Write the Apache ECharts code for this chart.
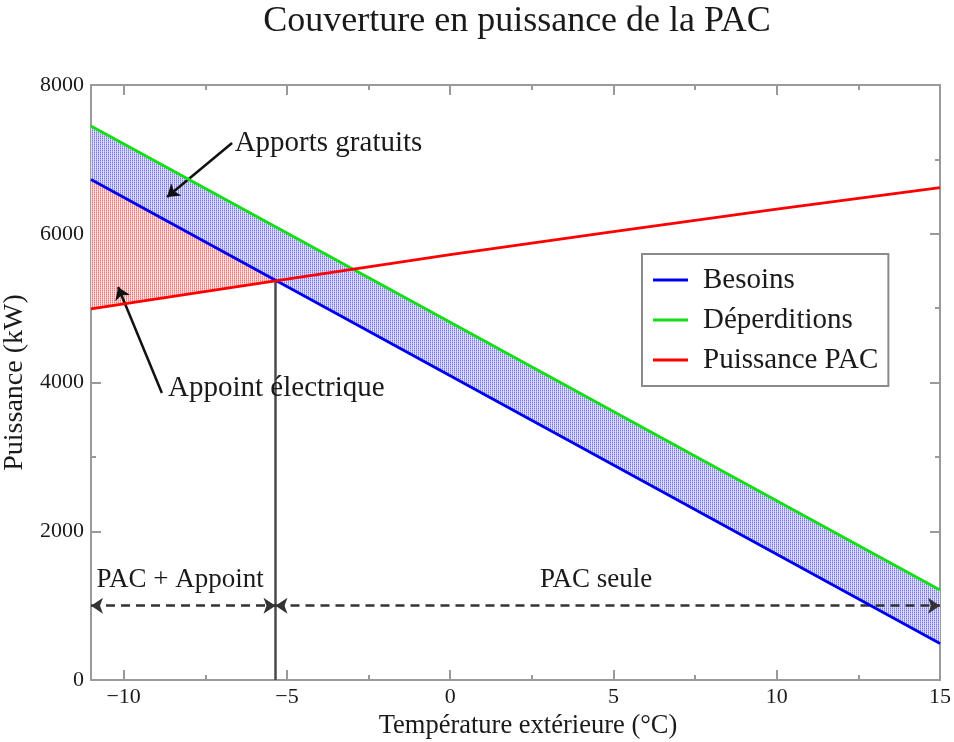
<!DOCTYPE html>
<html>
<head>
<meta charset="utf-8">
<script src="https://cdn.jsdelivr.net/npm/echarts@6/dist/echarts.min.js"></script>
<style>
  html, body { margin: 0; padding: 0; background: #fff; }
  #chart { width: 954px; height: 742px; }
</style>
</head>
<body>
<div id="chart"></div>
<script>
// values (x in °C, y in kW)
const temps = [-11, -5, 0, 5, 10, 15];
const besoins = [6730, 5290, 4090, 2890, 1690, 490];
const deperditions = [7450, 6010, 4810, 3610, 2410, 1210];
const puissancePac = [4990, 5390, 5720, 6030, 6330, 6620];

// electric backup zone, from -11 up to the balance point
const appointTemps = [-11, -5.35];
const appointBas = [4990, 5370];
const appointHaut = [6730, 5370];

const balanceTemp = -5.35;
const balancePower = 5370;
const arrowLevel = 1000;

const FONT = "Liberation Serif";
const AXIS_GREY = "#9a9a9a";
const INK = "#1a1a1a";

const pairs = (xs, ys) => xs.map((x, i) => [x, ys[i]]);

// small repeated texture for the hatched areas
function hatch(dark, mid, light) {
  const c = document.createElement("canvas");
  c.width = 4;
  c.height = 4;
  const ctx = c.getContext("2d");
  for (let x = 0; x < 4; x++) {
    for (let y = 0; y < 4; y++) {
      ctx.fillStyle = x % 2 ? light : (x + y) % 2 ? mid : dark;
      ctx.fillRect(x, y, 1, 1);
    }
  }
  return { image: c, repeat: "repeat" };
}

// filled band between two curves, drawn through the axis scales
function band(xs, low, high, fill) {
  return {
    type: "custom",
    silent: true,
    z: 1,
    data: [xs[0]],
    renderItem: (params, api) => {
      const top = xs.map((x, i) => api.coord([x, high[i]]));
      const bottom = xs.map((x, i) => api.coord([x, low[i]])).reverse();
      return {
        type: "polygon",
        shape: { points: top.concat(bottom) },
        style: { fill: fill },
      };
    },
  };
}

const arrowLine = (from, to, startSym, endSym, color, width, dashed) => [
  {
    coord: from,
    symbol: startSym,
    lineStyle: { color: color, width: width, type: dashed ? [9, 6] : "solid" },
  },
  { coord: to, symbol: endSym },
];

const note = (text, at, align, size) => ({
  coord: at,
  symbol: "circle",
  symbolSize: 0,
  label: {
    show: true,
    formatter: text,
    position: "inside",
    align: align,
    verticalAlign: "middle",
    fontFamily: FONT,
    fontSize: size,
    color: INK,
  },
});

const xBase = {
  type: "value",
  min: -11,
  max: 15,
  splitNumber: 5,
  axisLine: { onZero: false, lineStyle: { color: AXIS_GREY, width: 2 } },
  axisTick: { inside: true, length: 10, lineStyle: { color: AXIS_GREY, width: 2 } },
  minorTick: { show: true, splitNumber: 2, length: 5, lineStyle: { color: AXIS_GREY, width: 2 } },
  splitLine: { show: false },
};
const yBase = {
  type: "value",
  min: 0,
  max: 8000,
  interval: 2000,
  axisLine: { show: true, onZero: false, lineStyle: { color: AXIS_GREY, width: 2 } },
  axisTick: { show: true, inside: true, length: 10, lineStyle: { color: AXIS_GREY, width: 2 } },
  minorTick: { show: true, splitNumber: 2, length: 5, lineStyle: { color: AXIS_GREY, width: 2 } },
  splitLine: { show: false },
};

const chart = echarts.init(document.getElementById("chart"));

const option = {
  animation: false,
  backgroundColor: "#fff",
  title: {
    text: "Couverture en puissance de la PAC",
    left: 512,
    top: -1,
    textAlign: "center",
    textStyle: { fontFamily: FONT, fontSize: 36, fontWeight: "normal", color: INK },
  },
  grid: { left: 91, right: 14, top: 85, bottom: 62, outerBoundsMode: "none" },
  legend: {
    orient: "vertical",
    left: 642,
    top: 254,
    data: ["Besoins", "Déperditions", "Puissance PAC"],
    icon: "rect",
    borderColor: "#8a8a8a",
    borderWidth: 2,
    padding: [11, 10, 11, 11],
    itemWidth: 35,
    itemHeight: 3,
    itemGap: 10,
    textStyle: {
      fontFamily: FONT,
      fontSize: 29,
      lineHeight: 30,
      color: INK,
      padding: [0, 0, 0, 10],
    },
  },
  xAxis: [
    {
      ...xBase,
      name: "Température extérieure (°C)",
      nameLocation: "middle",
      nameGap: 25,
      nameTextStyle: { fontFamily: FONT, fontSize: 26.5, color: INK, padding: [0, 0, 0, 25] },
      axisLabel: {
        showMinLabel: false,
        margin: 6,
        fontFamily: FONT,
        fontSize: 22,
        color: INK,
        formatter: (v) => (v < 0 ? "\u2212" + -v : String(v)),
      },
    },
    { ...xBase, position: "top", axisLabel: { show: false } },
  ],
  yAxis: [
    {
      ...yBase,
      name: "Puissance (kW)",
      nameLocation: "middle",
      nameGap: 44,
      nameTextStyle: { fontFamily: FONT, fontSize: 28, color: INK },
      axisLabel: { margin: 7, fontFamily: FONT, fontSize: 22, color: INK, formatter: (v) => String(v) },
    },
    { ...yBase, position: "right", axisLabel: { show: false } },
  ],
  series: [
    band(temps, besoins, deperditions, hatch("#7474ec", "#acacf4", "#dedefb")),
    band(appointTemps, appointBas, appointHaut, hatch("#f07474", "#f6acac", "#fcdede")),
    {
      name: "Besoins",
      type: "line",
      symbol: "none",
      z: 5,
      data: pairs(temps, besoins),
      lineStyle: { color: "#0000f0", width: 2.8 },
      itemStyle: { color: "#0000f0" },
    },
    {
      name: "Déperditions",
      type: "line",
      symbol: "none",
      z: 5,
      data: pairs(temps, deperditions),
      lineStyle: { color: "#10e010", width: 2.8 },
      itemStyle: { color: "#10e010" },
    },
    {
      name: "Puissance PAC",
      type: "line",
      symbol: "none",
      z: 5,
      data: pairs(temps, puissancePac),
      lineStyle: { color: "#ff0000", width: 2.8 },
      itemStyle: { color: "#ff0000" },
      markLine: {
        silent: true,
        symbolSize: 12,
        label: { show: false },
        emphasis: { disabled: true },
        data: [
          arrowLine([balanceTemp, 0], [balanceTemp, balancePower], "none", "none", "#4a4a4a", 2.5, false),
          arrowLine([-6.68, 7220], [-8.67, 6494], "none", "arrow", "#111", 2.5, false),
          arrowLine([-8.83, 3860], [-10.17, 5284], "none", "arrow", "#111", 2.5, false),
          arrowLine([-11, arrowLevel], [balanceTemp, arrowLevel], "arrow", "arrow", "#333", 2.5, true),
          arrowLine([balanceTemp, arrowLevel], [15, arrowLevel], "arrow", "arrow", "#333", 2.5, true),
        ],
      },
      markPoint: {
        silent: true,
        data: [
          note("Apports gratuits", [-6.6, 7220], "left", 29),
          note("Appoint électrique", [-8.64, 3926], "left", 29),
          note("PAC + Appoint", [-8.27, 1345], "center", 27),
          note("PAC seule", [4.47, 1345], "center", 27),
        ],
      },
    },
  ],
};

chart.setOption(option);
</script>
</body>
</html>
